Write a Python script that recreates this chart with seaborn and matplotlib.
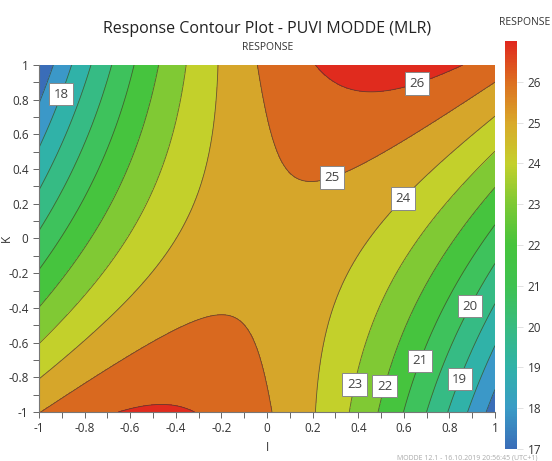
import numpy as np
import matplotlib
matplotlib.use("Agg")
import matplotlib.pyplot as plt
from matplotlib.colors import Normalize
from matplotlib.cm import ScalarMappable
from matplotlib.ticker import MultipleLocator, FuncFormatter
import seaborn as sns

# MLR model (coded factors I, K in [-1, 1]), coefficients
b0 = 24.78
b_I = 0.22
b_K = 0.055
b_IK = 4.45
b_II = -4.36
b_KK = 0.37

levels = [17, 18, 19, 20, 21, 22, 23, 24, 25, 26]
band_colors = ["#3a6db8", "#3b98c8", "#30b2a8", "#36bb84", "#3ec25c", "#46c43e",
               "#80c934", "#c3d02b", "#d6a62a", "#d9691f", "#e02b1e"]
bar_values = [17, 18, 19, 20, 21, 22, 23, 24, 25, 26, 27]
bar_colors = ["#3a6db8", "#3a9cc6", "#30b2a8", "#38bb80", "#3fc250", "#46c43c",
              "#7cc934", "#c4d02c", "#d9a92a", "#dc6f20", "#e0281e"]
label_pos = [(-0.90, 0.83), (0.66, 0.885), (0.285, 0.355), (0.605, 0.22),
             (0.395, -0.845), (0.526, -0.856), (0.68, -0.71), (0.90, -0.395),
             (0.855, -0.815)]

sns.set_theme(style="white")
plt.rcParams['font.family'] = ['Open Sans', 'DejaVu Sans']

grid = np.linspace(-1, 1, 241)
II, KK = np.meshgrid(grid, grid)
Z = b0 + b_I * II + b_K * KK + b_IK * II * KK + b_II * II ** 2 + b_KK * KK ** 2

fig = plt.figure(figsize=(5.52, 4.61), dpi=100)
ax = fig.add_axes([0.0707, 0.1063, 0.826, 0.7527])

fill_levels = [min(Z.min(), 17) - 1] + levels + [max(Z.max(), 26) + 1]
ax.contourf(II, KK, Z, levels=fill_levels, colors=band_colors)
cs = ax.contour(II, KK, Z, levels=levels, colors="#3d4030", linewidths=0.6, alpha=0.75)
labels = ax.clabel(cs, inline=False, fmt="%d", fontsize=9.5, manual=label_pos)
for t in labels:
    t.set_rotation(0)
    t.set_color("#444444")
    t.set_bbox(dict(boxstyle="square,pad=0.35", fc="white", ec="#888888", lw=0.7))

ax.set_xlim(-1, 1)
ax.set_ylim(-1, 1)
fmt = FuncFormatter(lambda v, p: f"{round(v, 6) + 0:g}")
for axis in (ax.xaxis, ax.yaxis):
    axis.set_major_locator(MultipleLocator(0.2))
    axis.set_minor_locator(MultipleLocator(0.1))
    axis.set_major_formatter(fmt)
ax.tick_params(which="both", direction="out", length=4, width=0.7, color="#666666",
               labelsize=8.5, labelcolor="#333333", bottom=True, left=True)
for s in ("top", "right"):
    ax.spines[s].set_visible(False)
for s in ("left", "bottom"):
    ax.spines[s].set_color("#777777")
    ax.spines[s].set_linewidth(0.8)
ax.set_xlabel("I", fontsize=8.5, color="#333333", labelpad=4)
ax.set_ylabel("K", fontsize=8.5, color="#333333")
ax.yaxis.set_label_coords(-0.058, 0.5)

fig.text(0.484, 0.938, "Response Contour Plot - PUVI MODDE (MLR)", ha="center",
         va="center", fontsize=11.5, color="#222222")
fig.text(0.484, 0.898, "RESPONSE", ha="center", va="center", fontsize=7.5, color="#333333")

# colorbar
cax = fig.add_axes([0.915, 0.026, 0.0217, 0.885])
cmap = sns.blend_palette(bar_colors, as_cmap=True)
sm = ScalarMappable(norm=Normalize(bar_values[0], bar_values[-1]), cmap=cmap)
cb = fig.colorbar(sm, cax=cax, ticks=bar_values[:-1])
cb.outline.set_visible(False)
cax.tick_params(length=4, width=0.6, color="#dddddd", labelsize=8.5, labelcolor="#333333")
fig.text(0.951, 0.952, "RESPONSE", ha="center", va="center", fontsize=7.5, color="#333333")

fig.text(0.72, 0.0, "MODDE 12.1 - 16.10.2019 20:56:45 (UTC+1)", ha="left", va="bottom",
         fontsize=5, color="#aaaaaa")

fig.savefig("out.png", dpi=100)
